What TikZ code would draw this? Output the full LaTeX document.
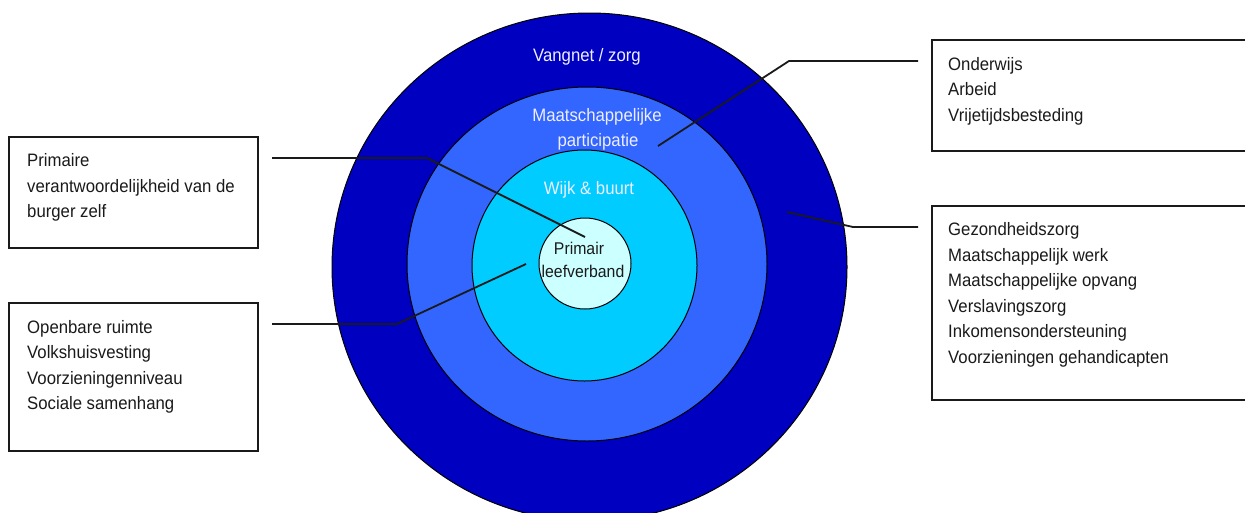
\documentclass[tikz,border=0pt]{standalone}
\usepackage{fontspec}
\setmainfont[FakeStretch=0.93]{Liberation Sans}
\definecolor{ringA}{HTML}{0000C0}
\definecolor{ringB}{HTML}{3366FF}
\definecolor{ringC}{HTML}{00CCFF}
\definecolor{ringD}{HTML}{CCFFFF}
\definecolor{lbl}{HTML}{EEEEFF}
\definecolor{ink}{HTML}{1A1A1A}
\tikzset{
  ring/.style={ellipse, draw=black, line width=1pt, inner sep=0pt},
  infobox/.style={draw=ink, line width=1.8pt, fill=white, inner sep=0pt},
  boxtext/.style={anchor=base west, align=left, inner sep=0pt, text=ink, font=\fontsize{18}{25.5}\selectfont},
  ringtext/.style={anchor=base, inner sep=0pt, text=lbl, font=\fontsize{18}{25}\selectfont},
  connector/.style={draw=ink, line width=1.8pt},
}
\usetikzlibrary{shapes.geometric}
\begin{document}
\begin{tikzpicture}[x=1pt,y=-1pt]
\useasboundingbox (0,0) rectangle (1245,512);
\clip (0,0) rectangle (1245,512);
\fill[white] (0,0) rectangle (1245,512);
% rings
\node[ring, fill=ringA, minimum width=515, minimum height=508] (outer) at (589.5,267) {};
\node[ring, fill=ringB, minimum width=360, minimum height=354] (mid) at (587,264) {};
\node[ring, fill=ringC, minimum width=225, minimum height=231] (wijk) at (584.5,265.5) {};
\node[ring, fill=ringD, minimum width=92, minimum height=91] (core) at (585,263.5) {};
% ring labels
\node[ringtext] (tVang) at (587,61) {Vangnet / zorg};
\node[ringtext] (tMaat) at (597,121.5) {Maatschappelijke};
\node[ringtext] (tPart) at (598,146.5) {participatie};
\node[ringtext] (tWijk) at (589,194.3) {Wijk \& buurt};
\node[ringtext, text=ink, font=\fontsize{17}{23}\selectfont] (tPrim) at (579,254.3) {Primair};
\node[ringtext, text=ink, font=\fontsize{17}{23}\selectfont] (tLeef) at (583,277.7) {leefverband};
% boxes
\node[infobox, minimum width=249, minimum height=111] (b1) at (133.5,192.5) {};
\node[infobox, minimum width=249, minimum height=148] (b2) at (133.5,377) {};
\node[infobox, minimum width=320, minimum height=111] (b3) at (1092,95.5) {};
\node[infobox, minimum width=320, minimum height=194] (b4) at (1092,303) {};
% (base anchor of a multi-line node = baseline of its last line)
\node[boxtext] (t1) at (27,217.5) {Primaire\\verantwoordelijkheid van de\\burger zelf};
\node[boxtext] (t2) at (27,409.5) {Openbare ruimte\\Volkshuisvesting\\Voorzieningenniveau\\Sociale samenhang};
\node[boxtext] (t3) at (948,121) {Onderwijs\\Arbeid\\Vrijetijdsbesteding};
\node[boxtext] (t4) at (948,363.2) {Gezondheidszorg\\Maatschappelijk werk\\Maatschappelijke opvang\\Verslavingszorg\\Inkomensondersteuning\\Voorzieningen gehandicapten};
% connector ends
\coordinate (s1) at (272,158);
\coordinate (k1) at (427,158);
\coordinate (e1) at (585,237);
\coordinate (s2) at (272,324);
\coordinate (k2) at (397,324);
\coordinate (e2) at (526,264);
\coordinate (s3) at (918,61);
\coordinate (k3) at (789,61);
\coordinate (e3) at (658,146);
\coordinate (s4) at (918,227);
\coordinate (k4) at (853,227);
\coordinate (e4) at (787,212);
\draw[connector] (s1) -- (k1) -- (e1);
\draw[connector] (s2) -- (k2) -- (e2);
\draw[connector] (s3) -- (k3) -- (e3);
\draw[connector] (s4) -- (k4) -- (e4);
\end{tikzpicture}
\end{document}
